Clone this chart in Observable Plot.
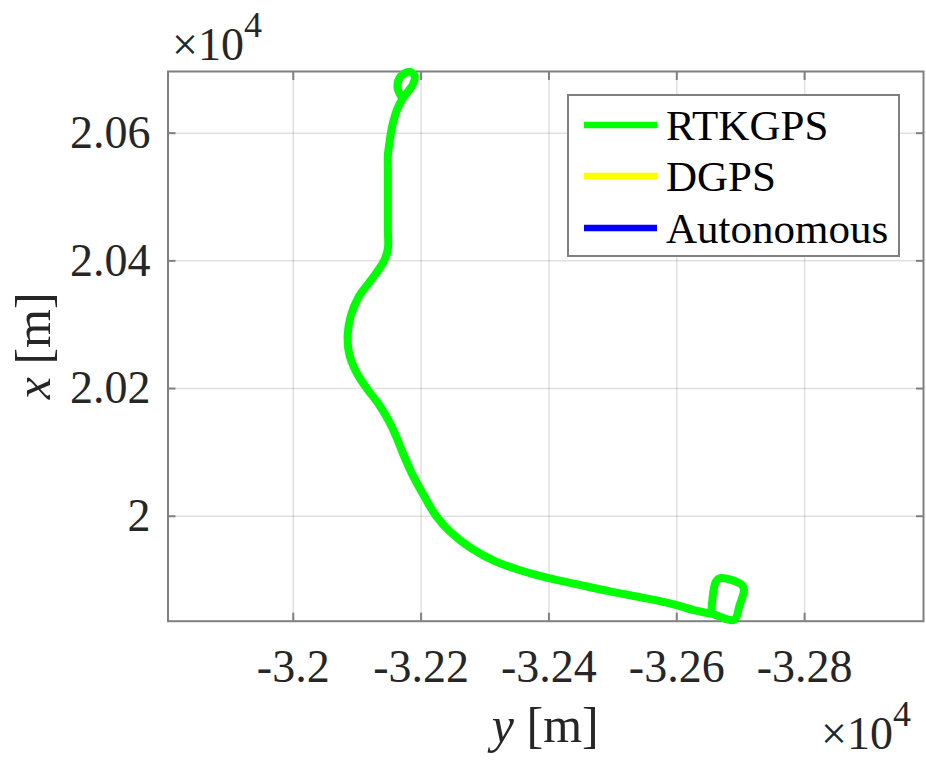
<!DOCTYPE html>
<html><head><meta charset="utf-8">
<script src="https://cdn.jsdelivr.net/npm/d3@7"></script>
<script src="https://cdn.jsdelivr.net/npm/@observablehq/plot@0.6"></script>
<style>
body{margin:0;background:#fff;}
#chart{width:926px;height:760px;}
</style></head><body><div id="chart"></div>
<script>
// Legend categories and colours
const seriesNames = ["RTKGPS", "DGPS", "Autonomous"];
const seriesColors = ["#00ff00", "#ffff00", "#0000ff"];

// RTKGPS track, east coordinate "y" [m] (horizontal axis)
const rtkY = [-32171, -32163, -32168, -32182, -32190, -32187, -32171, -32162, -32155, -32151,
  -32148, -32148, -32148, -32148, -32148, -32141, -32121, -32102, -32090, -32085,
  -32088, -32099, -32115, -32134, -32149, -32160, -32173, -32187, -32204, -32223,
  -32246, -32278, -32317, -32356, -32400, -32450, -32497, -32544, -32591, -32630,
  -32655, -32690, -32698, -32705, -32701, -32668, -32661, -32654];
// RTKGPS track, north coordinate "x" [m] (vertical axis)
const rtkX = [20654, 20672, 20689, 20696, 20689, 20676, 20654, 20636, 20612, 20589,
  20565, 20542, 20495, 20448, 20419, 20398, 20369, 20343, 20314, 20283,
  20252, 20225, 20200, 20175, 20150, 20127, 20095, 20064, 20033, 20001,
  19975, 19950, 19929, 19915, 19903, 19892, 19882, 19873, 19863, 19852,
  19847, 19838, 19860, 19885, 19893, 19903, 19897, 19849];

// Axis ticks (metres) and their labels (x 10^4)
const xTicks = [-32000, -32200, -32400, -32600, -32800];
const yTicks = [20000, 20200, 20400, 20600];
const xDomain = [-31804, -32986];
const yDomain = [19835.6, 20696.6];

const fmt = d => String(+(d / 1e4).toFixed(4)).replace("\u2212", "-");

const track = rtkY.map((v, i) => ({y: v, x: rtkX[i]}));

const W = 926, H = 760;
const mL = 167.5, mR = 3, mT = 71, mB = 139.3;
const axisGray = "#808080";
const fontFam = "'Liberation Serif', 'Times New Roman', Times, serif";

const chart = Plot.plot({
  width: W, height: H,
  marginLeft: mL, marginRight: mR, marginTop: mT, marginBottom: mB,
  style: {fontFamily: fontFam, fontSize: "46px", color: "#262626", background: "#fff", overflow: "visible"},
  x: {domain: xDomain},
  y: {domain: yDomain},
  marks: [
    Plot.gridX(xTicks, {stroke: "#000", strokeOpacity: 0.12, strokeWidth: 1.5}),
    Plot.gridY(yTicks, {stroke: "#000", strokeOpacity: 0.12, strokeWidth: 1.5}),
    Plot.axisX(xTicks, {anchor: "bottom", tickSize: -8, tickPadding: 36.6, tickFormat: fmt, stroke: axisGray, strokeWidth: 2, label: null, fontSize: 46}),
    Plot.axisX(xTicks, {anchor: "top", tickSize: -8, tickFormat: () => "", stroke: axisGray, strokeWidth: 2, label: null}),
    Plot.axisY(yTicks, {anchor: "left", tickSize: -8, tickPadding: 25.5, tickFormat: fmt, stroke: axisGray, strokeWidth: 2, label: null, fontSize: 46}),
    Plot.axisY(yTicks, {anchor: "right", tickSize: -8, tickFormat: () => "", stroke: axisGray, strokeWidth: 2, label: null}),
    Plot.frame({stroke: axisGray, strokeWidth: 2}),
    Plot.line(track, {x: "y", y: "x", stroke: seriesColors[0], strokeWidth: 8, curve: "catmull-rom", strokeLinejoin: "round", strokeLinecap: "round"})
  ]
});

const svg = d3.select(chart);
const textColor = "#262626";

// Axis titles
const xt = svg.append("text").attr("x", mL + (W - mL - mR) / 2).attr("y", 742)
  .attr("text-anchor", "middle").attr("font-size", 50).attr("fill", textColor).attr("font-family", fontFam);
xt.append("tspan").attr("font-style", "italic").text("y");
xt.append("tspan").text(" [m]");

const yt = svg.append("text").attr("transform", `translate(50,${mT + (H - mB - mT) / 2}) rotate(-90)`)
  .attr("text-anchor", "middle").attr("font-size", 50).attr("fill", textColor).attr("font-family", fontFam);
yt.append("tspan").attr("font-style", "italic").text("x");
yt.append("tspan").text(" [m]");

// Exponent labels
function expLabel(x, y) {
  const t = svg.append("text").attr("x", x).attr("y", y).attr("font-size", 46)
    .attr("text-anchor", "start").attr("fill", textColor).attr("font-family", fontFam);
  t.append("tspan").text("\u00d710");
  t.append("tspan").attr("dy", -23).attr("font-size", 36).text("4");
}
expLabel(172, 60);
expLabel(821, 749);

// Legend
const lg = svg.append("g");
lg.append("rect").attr("x", 568).attr("y", 95).attr("width", 331).attr("height", 161)
  .attr("fill", "#fff").attr("stroke", axisGray).attr("stroke-width", 2);
const rows = [125, 176, 228];
seriesNames.forEach((name, i) => {
  lg.append("line").attr("x1", 584).attr("x2", 657).attr("y1", rows[i]).attr("y2", rows[i])
    .attr("stroke", seriesColors[i]).attr("stroke-width", 6.5);
  lg.append("text").attr("x", 666).attr("y", rows[i] + 15).attr("font-size", 43)
    .attr("text-anchor", "start").attr("fill", "#000").attr("font-family", fontFam).text(name);
});

document.getElementById("chart").appendChild(chart);
</script>
</body></html>
